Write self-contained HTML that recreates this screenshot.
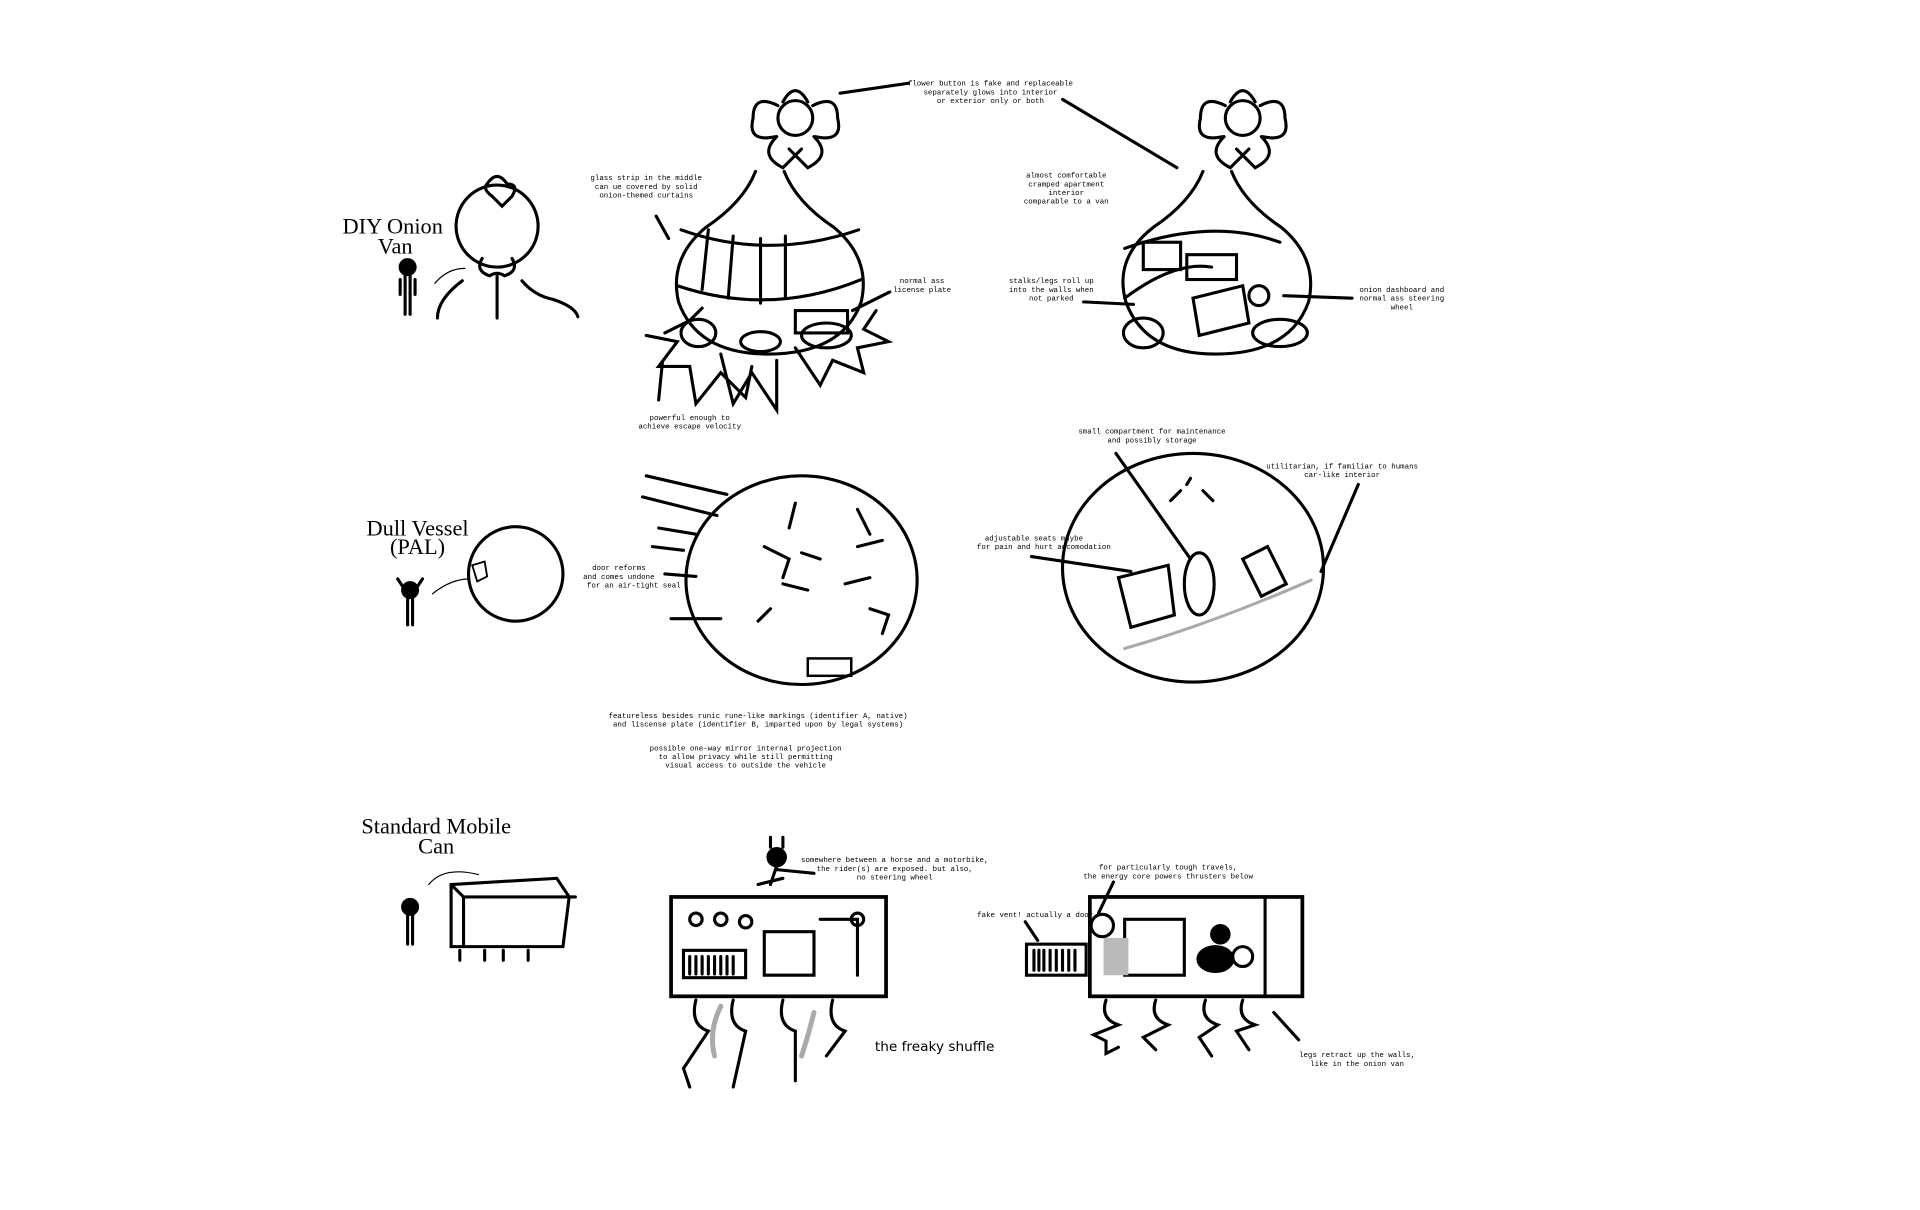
<!DOCTYPE html>
<html><head><meta charset="utf-8"><style>
html,body{margin:0;padding:0;background:#fff;width:1920px;height:1210px;overflow:hidden}
svg{display:block}
.t{font-family:"Liberation Mono",monospace;font-size:6px;fill:#000}
.h{font-family:"Liberation Serif",serif;font-size:18px;fill:#000}
</style></head><body>
<svg width="1920" height="1210" viewBox="0 0 1545 974" preserveAspectRatio="none" xmlns="http://www.w3.org/2000/svg">
<rect width="1545" height="974" fill="#fff"/>
<g fill="none" stroke="#000" stroke-width="2.5" stroke-linecap="round">
<circle cx="400" cy="182" r="33"/>
<path d="M392 148 q8 -12 16 0 q10 0 4 10 l-8 8 -8 -8 q-8 -6 -4 -10z"/>
<path d="M388 208 q-6 10 6 14 q6 -4 12 0 q12 -4 6 -14"/>
<path d="M372 226 q-20 15 -20 30 M420 226 q10 12 25 15 q18 6 20 14 M400 222 v34"/>
<path d="M350 228 q10 -12 24 -12" stroke-width="1"/>
<circle cx="328" cy="215" r="6" fill="#000"/><path d="M326 221 v32 M330 221 v32 M322 225 v12 M334 225 v12"/>
<!-- Big onion 1 -->
<path d="M608 138 q-10 25 -40 45 q-30 25 -22 60 q15 42 72 42 q60 0 75 -42 q8 -35 -22 -60 q-30 -20 -40 -45"/>
<path d="M548 185 q70 25 143 0 M545 230 q75 25 148 -5"/>
<path d="M570 185 l-5 48 M590 190 l-4 50 M612 192 v52 M632 190 v50"/>
<circle cx="640" cy="95" r="14"/>
<path d="M626 85 q-20 -10 -20 10 q-5 20 18 15 M654 85 q20 -10 20 10 q5 20 -18 15 M625 110 q-15 15 5 25 q10 -10 15 -15 M655 110 q15 15 -5 25 q-10 -10 -15 -15 M630 82 q10 -18 20 0"/>
<path d="M676 75 l55 -8"/>
<path d="M535 268 l20 -10 10 -10 M520 270 l25 5 -15 20 25 0 5 30 20 -25 20 20 5 -25 M580 285 l10 40 15 -25 20 30 0 -40 M640 280 l20 30 10 -20 25 10 -5 -20 25 -5 -20 -10 10 -15"/>
<ellipse cx="562" cy="268" rx="14" ry="11"/><ellipse cx="665" cy="270" rx="20" ry="10"/><ellipse cx="612" cy="275" rx="16" ry="8"/>
<rect x="640" y="250" width="42" height="18"/>
<path d="M538 192 l-10 -18 M686 250 l30 -15 M530 322 l3 -30"/>
<!-- Big onion 2 -->
<path d="M968 138 q-10 25 -40 45 q-32 25 -22 60 q15 42 72 42 q60 0 75 -42 q8 -35 -22 -60 q-30 -20 -40 -45"/>
<path d="M905 200 q70 -25 125 -5 M905 240 q40 -30 70 -25"/>
<rect x="920" y="195" width="30" height="22"/><rect x="955" y="205" width="40" height="20"/>
<path d="M960 240 l40 -10 5 30 -40 10z"/>
<circle cx="1013" cy="238" r="8"/>
<circle cx="1000" cy="95" r="14"/>
<path d="M986 85 q-20 -10 -20 10 q-5 20 18 15 M1014 85 q20 -10 20 10 q5 20 -18 15 M985 110 q-15 15 5 25 q10 -10 15 -15 M1015 110 q15 15 -5 25 q-10 -10 -15 -15 M990 82 q10 -18 20 0"/>
<ellipse cx="920" cy="268" rx="16" ry="12"/><ellipse cx="1030" cy="268" rx="22" ry="11"/>
<path d="M855 80 l92 55 M1033 238 l55 2 M872 243 l40 2"/>
<!-- Row 2 -->
<circle cx="415" cy="462" r="38"/>
<path d="M380 455 l10 -3 2 12 -8 4z" stroke-width="1.5"/>
<path d="M348 478 q15 -12 30 -12" stroke-width="1"/>
<circle cx="330" cy="475" r="6" fill="#000"/><path d="M328 481 v22 M332 481 v22 M320 466 l4 6 M340 466 l-4 6"/>
<ellipse cx="645" cy="467" rx="93" ry="84"/>
<path d="M520 383 l65 15 M517 400 l60 15 M530 425 l30 5 M525 440 l25 3 M535 462 l25 2 M540 498 l40 0"/>
<path d="M615 440 l20 10 -5 15 M645 445 l15 5 M690 440 l20 -5 M630 470 l20 5 M680 470 l20 -5 M620 490 l-10 10 M700 490 l15 5 -5 15 M640 405 l-5 20 M690 410 l10 20"/>
<rect x="650" y="530" width="35" height="14" stroke-width="2"/>
<ellipse cx="960" cy="457" rx="105" ry="92"/>
<path d="M958 385 l-3 5 M950 395 l-8 8 M968 395 l8 8"/>
<ellipse cx="965" cy="470" rx="12" ry="25"/>
<path d="M900 465 l40 -10 5 40 -35 10z M1000 450 l20 -10 15 30 -20 10z"/>
<path d="M905 522 q70 -20 150 -55" stroke="#aaa"/>
<path d="M898 365 l60 85 M1093 390 l-30 70 M830 448 l80 12"/>
<!-- Row 3 -->
<path d="M363 712 l85 -5 10 15 -5 40 -90 0z M363 712 l10 10 90 0 M373 722 v40"/>
<path d="M370 765 v8 M390 765 v8 M405 765 v8 M425 765 v8"/>
<path d="M345 712 q12 -15 40 -8" stroke-width="1"/>
<circle cx="330" cy="730" r="6" fill="#000"/><path d="M328 736 v24 M332 736 v24"/>
<rect x="540" y="722" width="173" height="80" stroke-width="3"/>
<rect x="550" y="765" width="50" height="22"/>
<path d="M555 770 v14 M560 770 v14 M565 770 v14 M570 770 v14 M575 770 v14 M580 770 v14 M585 770 v14 M590 770 v14"/>
<path d="M615 750 h40 v35 h-40 z M660 740 h30 v45"/>
<circle cx="560" cy="740" r="5"/><circle cx="580" cy="740" r="5"/><circle cx="600" cy="742" r="5"/><circle cx="690" cy="740" r="5"/>
<circle cx="625" cy="690" r="7" fill="#000"/><path d="M620 682 v-8 M630 682 v-8 M625 697 l-5 15 M625 700 l30 3 M610 712 l20 -5"/>
<path d="M560 805 q-5 20 10 25 l-20 30 5 15 M590 805 q-5 20 10 25 l-10 45 M630 805 q-5 20 10 25 l0 40 M670 805 q-5 20 10 25 l-15 20"/>
<path d="M580 810 q-10 20 -5 40 M655 815 q-5 20 -10 35" stroke="#aaa" stroke-width="4"/>
<rect x="877" y="722" width="171" height="80" stroke-width="3"/>
<path d="M1018 722 v80"/>
<rect x="826" y="760" width="48" height="25"/>
<path d="M832 765 v16 M836 765 v16 M840 765 v16 M845 765 v16 M850 765 v16 M855 765 v16 M860 765 v16 M865 765 v16"/>
<circle cx="887" cy="745" r="9"/>
<rect x="905" y="740" width="48" height="45"/>
<rect x="888" y="755" width="20" height="30" fill="#bbb" stroke="none"/>
<circle cx="982" cy="752" r="7" fill="#000"/><ellipse cx="978" cy="772" rx="14" ry="10" fill="#000"/><circle cx="1000" cy="770" r="8"/>
<path d="M890 805 q-5 15 10 20 l-20 8 10 5 0 10 10 -5 M930 805 q-5 15 10 20 l-20 10 10 10 M970 805 q-5 15 10 20 l-15 10 10 15 M1000 805 q-5 15 10 20 l-15 5 10 15"/>
<path d="M884 735 l12 -25 M825 742 l10 15 M1025 815 l20 22"/>
</g>
<g class="h" text-anchor="middle">
<text x="316" y="188">DIY Onion</text><text x="318" y="204">Van</text>
<text x="336" y="431">Dull Vessel</text><text x="336" y="446">(PAL)</text>
<text x="351" y="671">Standard Mobile</text><text x="351" y="687">Can</text>
</g>
<g class="t" text-anchor="middle">
<text x="797" y="69">flower button is fake and replaceable</text>
<text x="797" y="76">separately glows into interior</text>
<text x="797" y="83">or exterior only or both</text>
<text x="520" y="145">glass strip in the middle</text><text x="520" y="152">can ue covered by solid</text><text x="520" y="159">onion-themed curtains</text>
<text x="742" y="228">normal ass</text><text x="742" y="235">license plate</text>
<text x="555" y="338">powerful enough to</text><text x="555" y="345">achieve escape velocity</text>
<text x="858" y="143">almost comfortable</text><text x="858" y="150">cramped apartment</text><text x="858" y="157">interior</text><text x="858" y="164">comparable to a van</text>
<text x="846" y="228">stalks/legs roll up</text><text x="846" y="235">into the walls when</text><text x="846" y="242">not parked</text>
<text x="1128" y="235">onion dashboard and</text><text x="1128" y="242">normal ass steering</text><text x="1128" y="249">wheel</text>
<text x="927" y="349">small compartment for maintenance</text><text x="927" y="356">and possibly storage</text>
<text x="1080" y="377">utilitarian, if familiar to humans</text><text x="1080" y="384">car-like interior</text>
<text x="832" y="435">adjustable seats maybe</text><text x="840" y="442">for pain and hurt accomodation</text>
<text x="498" y="459">door reforms</text><text x="498" y="466">and comes undone</text><text x="510" y="473">for an air-tight seal</text>
<text x="610" y="578">featureless besides runic rune-like markings (identifier A, native)</text>
<text x="610" y="585">and liscense plate (identifier B, imparted upon by legal systems)</text>
<text x="600" y="604">possible one-way mirror internal projection</text>
<text x="600" y="611">to allow privacy while still permitting</text>
<text x="600" y="618">visual access to outside the vehicle</text>
<text x="720" y="694">somewhere between a horse and a motorbike,</text>
<text x="720" y="701">the rider(s) are exposed. but also,</text>
<text x="720" y="708">no steering wheel</text>
<text x="940" y="700">for particularly tough travels,</text>
<text x="940" y="707">the energy core powers thrusters below</text>
<text x="833" y="738">fake vent! actually a door</text>
<text x="1092" y="851">legs retract up the walls,</text><text x="1092" y="858">like in the onion van</text>
</g>
<text x="704" y="846" font-family="DejaVu Sans, sans-serif" font-size="11">the freaky shuffle</text>
</svg>
</body></html>
